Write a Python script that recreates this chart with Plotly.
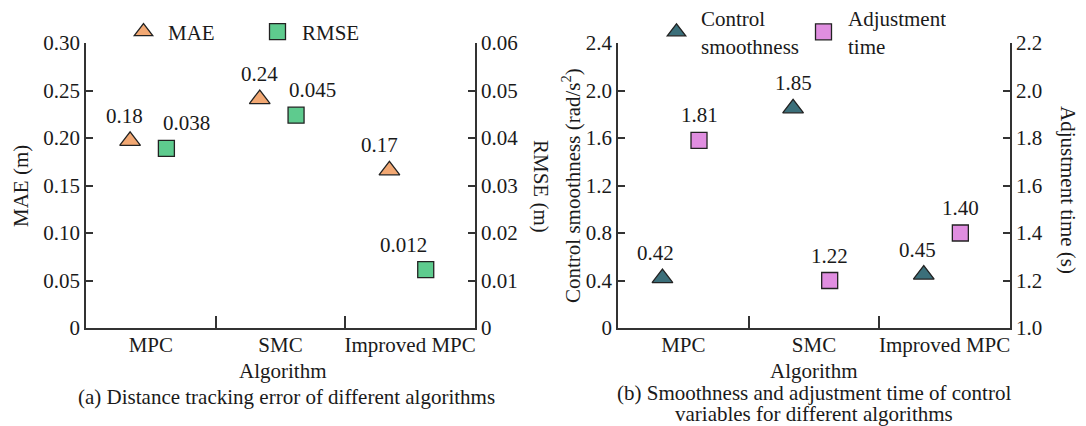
import plotly.graph_objects as go

# ---------------- data ----------------
categories = ["MPC", "SMC", "Improved MPC"]

mae_values = [0.197, 0.241, 0.166]
mae_labels = ["0.18", "0.24", "0.17"]
rmse_values = [0.0378, 0.0448, 0.0123]
rmse_labels = ["0.038", "0.045", "0.012"]

smooth_values = [0.42, 1.85, 0.45]
smooth_labels = ["0.42", "1.85", "0.45"]
adjust_values = [1.79, 1.20, 1.40]
adjust_labels = ["1.81", "1.22", "1.40"]

mae_ticks = [0, 0.05, 0.10, 0.15, 0.20, 0.25, 0.30]
mae_ticktext = ["0", "0.05", "0.10", "0.15", "0.20", "0.25", "0.30"]
rmse_ticks = [0, 0.01, 0.02, 0.03, 0.04, 0.05, 0.06]
rmse_ticktext = ["0", "0.01", "0.02", "0.03", "0.04", "0.05", "0.06"]
smooth_ticks = [0, 0.4, 0.8, 1.2, 1.6, 2.0, 2.4]
smooth_ticktext = ["0", "0.4", "0.8", "1.2", "1.6", "2.0", "2.4"]
adjust_ticks = [1.0, 1.2, 1.4, 1.6, 1.8, 2.0, 2.2]
adjust_ticktext = ["1.0", "1.2", "1.4", "1.6", "1.8", "2.0", "2.2"]

# ---------------- style ----------------
W, H = 1086, 426
FONT = "Liberation Serif, Times New Roman, serif"
FS = 21
TXT = "#1a1a1a"
AX = "#333333"
C_MAE = "#F2A873"
C_RMSE = "#5ECB8E"
C_SMOOTH = "#3B6F7A"
C_ADJ = "#E08EE0"
LEFT_OFF, RIGHT_OFF = -0.16, 0.12


def px(x):
    return x / W


def py(y):
    return 1 - y / H


idx = list(range(len(categories)))
x_left = [i + LEFT_OFF for i in idx]
x_right = [i + RIGHT_OFF for i in idx]

fig = go.Figure()

mk_line = dict(color="#222222", width=1.3)

fig.add_trace(go.Scatter(x=x_left, y=mae_values, mode="markers", name="MAE",
                         marker=dict(symbol="triangle-up", size=18, color=C_MAE, line=mk_line),
                         xaxis="x", yaxis="y", legend="legend"))
fig.add_trace(go.Scatter(x=x_right, y=rmse_values, mode="markers", name="RMSE",
                         marker=dict(symbol="square", size=16, color=C_RMSE, line=mk_line),
                         xaxis="x", yaxis="y2", legend="legend"))
fig.add_trace(go.Scatter(x=x_left, y=smooth_values, mode="markers", name="Control<br>smoothness",
                         marker=dict(symbol="triangle-up", size=18, color=C_SMOOTH, line=mk_line),
                         xaxis="x2", yaxis="y3", legend="legend2"))
fig.add_trace(go.Scatter(x=x_right, y=adjust_values, mode="markers", name="Adjustment<br>time",
                         marker=dict(symbol="square", size=16, color=C_ADJ, line=mk_line),
                         xaxis="x2", yaxis="y4", legend="legend2"))

# value labels
annotations = []
label_sets = [
    (x_left, mae_values, mae_labels, "x", "y", [-6, 0, -10]),
    (x_right, rmse_values, rmse_labels, "x", "y2", [20, 16, -22]),
    (x_left, smooth_values, smooth_labels, "x2", "y3", [-7, 0, -6]),
    (x_right, adjust_values, adjust_labels, "x2", "y4", [0, 0, 0]),
]
for xs, ys, labs, xr, yr, shifts in label_sets:
    for xv, yv, lab, sh in zip(xs, ys, labs, shifts):
        annotations.append(dict(x=xv, y=yv, xref=xr, yref=yr, text=lab, showarrow=False,
                                xshift=sh, yshift=25, font=dict(family=FONT, size=FS, color=TXT)))


def ann(text, x, y, angle=0):
    return dict(text=text, x=px(x), y=py(y), xref="paper", yref="paper", showarrow=False,
                textangle=angle, xanchor="center", yanchor="middle",
                font=dict(family=FONT, size=FS, color=TXT))


annotations += [
    ann("MAE (m)", 21, 186, -90),
    ann("RMSE (m)", 541, 186, 90),
    ann("Algorithm", 283, 371),
    ann("(a) Distance tracking error of different algorithms", 286, 397),
    ann("Control smoothness (rad/s<sup>2</sup>)", 571, 186, -90),
    ann("Adjustment time (s)", 1068, 190, 90),
    ann("Algorithm", 814, 371),
    ann("(b) Smoothness and adjustment time of control", 814, 393),
    ann("variables for different algorithms", 814, 414),
]

xa_common = dict(range=[-0.5, 2.5], tickmode="array", tickvals=idx, ticktext=categories,
                 ticks="inside", ticklen=0, showline=True, linecolor=AX, linewidth=1.8,
                 showgrid=False, zeroline=False, automargin=False, ticklabelstandoff=-3,
                 minor=dict(tickmode="array", tickvals=[0.5, 1.5], ticks="inside", ticklen=12,
                            tickwidth=1.8, tickcolor=AX, showgrid=False),
                 tickfont=dict(family=FONT, size=FS, color=TXT))
ya_common = dict(ticks="inside", ticklen=7, tickwidth=1.6, tickcolor=AX, showline=True,
                 linecolor=AX, linewidth=1.8, showgrid=False, zeroline=False, automargin=False,
                 tickfont=dict(family=FONT, size=FS, color=TXT), tickmode="array")

dom_a = [px(86), px(475)]
dom_b = [px(618), px(1010)]
ydom = [py(328), py(43)]

fig.update_layout(
    width=W, height=H, margin=dict(l=0, r=0, t=0, b=0, autoexpand=False),
    paper_bgcolor="white", plot_bgcolor="white",
    font=dict(family=FONT, size=FS, color=TXT),
    xaxis=dict(domain=dom_a, anchor="y", **xa_common),
    yaxis=dict(domain=ydom, anchor="x", range=[0, 0.30], tickvals=mae_ticks,
               ticktext=mae_ticktext, side="left", **ya_common),
    yaxis2=dict(overlaying="y", anchor="x", side="right", range=[0, 0.06],
                tickvals=rmse_ticks, ticktext=rmse_ticktext, **ya_common),
    xaxis2=dict(domain=dom_b, anchor="y3", **xa_common),
    yaxis3=dict(domain=ydom, anchor="x2", range=[0, 2.4], tickvals=smooth_ticks,
                ticktext=smooth_ticktext, side="left", **ya_common),
    yaxis4=dict(overlaying="y3", anchor="x2", side="right", range=[1.0, 2.2],
                tickvals=adjust_ticks, ticktext=adjust_ticktext, **ya_common),
    legend=dict(orientation="h", x=px(119), y=py(32), xanchor="left", yanchor="middle",
                bgcolor="rgba(0,0,0,0)", font=dict(family=FONT, size=FS, color=TXT),
                entrywidth=80, entrywidthmode="pixels", itemclick=False, itemwidth=39),
    legend2=dict(orientation="h", x=px(652), y=py(32), xanchor="left", yanchor="middle",
                 bgcolor="rgba(0,0,0,0)", font=dict(family=FONT, size=FS, color=TXT),
                 entrywidth=93, entrywidthmode="pixels", itemclick=False, itemwidth=39),
    annotations=annotations,
    showlegend=True,
)

fig.write_html("out.html", config={"displayModeBar": False},
               post_script="document.body.style.margin='0';")
